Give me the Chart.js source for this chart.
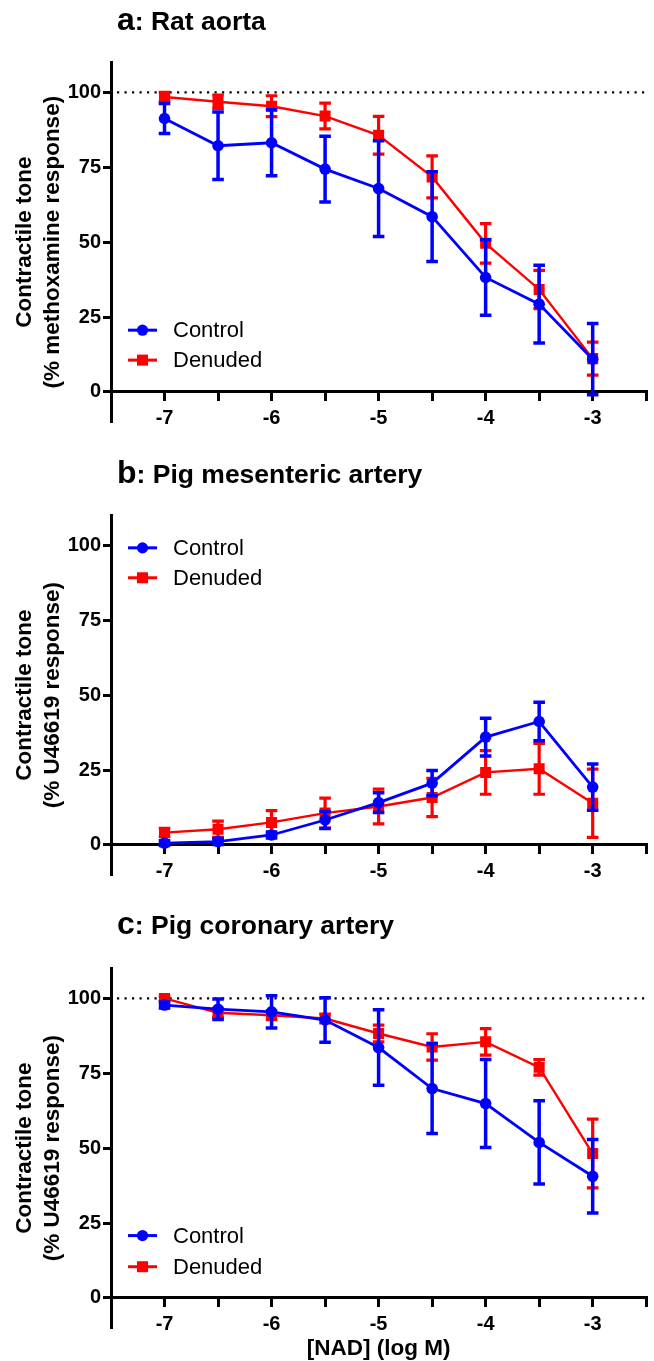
<!DOCTYPE html>
<html>
<head>
<meta charset="utf-8">
<title>NAD concentration-response</title>
<script src="https://cdn.jsdelivr.net/npm/chart.js@4.4.0/dist/chart.umd.min.js"></script>
<style>
  html, body { margin: 0; padding: 0; background: #fff; }
  #wrap { position: relative; width: 654px; height: 1361px; }
  canvas { position: absolute; left: 0; }
</style>
</head>
<body>
<div id="wrap">
  <canvas id="chartA" width="654" height="453" style="top:0"></canvas>
  <canvas id="chartB" width="654" height="453" style="top:453px"></canvas>
  <canvas id="chartC" width="654" height="455" style="top:906px"></canvas>
</div>
<script>
// ---- data ----
const logNAD = [-7, -6.5, -6, -5.5, -5, -4.5, -4, -3.5, -3];
const xTickValues = [-7.5, -7, -6.5, -6, -5.5, -5, -4.5, -4, -3.5, -3, -2.5];
const xLabelled = [-7, -6, -5, -4, -3];
const yTickValues = [0, 25, 50, 75, 100];
const seriesNames = ["Control", "Denuded"];

// a: rat aorta
const ratControl     = [91.3, 82.2, 83.2, 74.4, 67.9, 58.5, 38.2, 29.3, 10.9];
const ratControlErr  = [5.0, 11.3, 11.0, 11.0, 16.0, 15.0, 12.6, 13.0, 11.9];
const ratDenuded     = [98.5, 96.9, 95.4, 92.1, 85.7, 71.8, 49.6, 34.2, 11.1];
const ratDenudedErr  = [1.5, 2.2, 3.5, 4.3, 6.3, 7.0, 6.6, 6.4, 5.5];

// b: pig mesenteric artery
const mesControl     = [0.6, 1.1, 3.3, 8.3, 14.1, 20.6, 36.0, 41.2, 19.3];
const mesControlErr  = [0.8, 1.0, 1.0, 2.8, 3.3, 4.2, 6.3, 6.4, 7.7];
const mesDenuded     = [4.1, 5.2, 7.5, 10.6, 12.8, 15.8, 24.2, 25.4, 13.9];
const mesDenudedErr  = [1.4, 2.7, 3.9, 5.0, 5.8, 6.4, 7.3, 8.5, 11.4];

// c: pig coronary artery
const corControl     = [97.8, 96.4, 95.5, 92.8, 83.6, 69.9, 64.9, 51.9, 40.6];
const corControlErr  = [1.0, 3.4, 5.4, 7.4, 12.6, 15.0, 14.7, 13.9, 12.3];
const corDenuded     = [100.0, 95.2, 94.4, 93.3, 88.3, 83.8, 85.5, 77.0, 48.2];
const corDenudedErr  = [0.8, 1.5, 1.5, 1.5, 2.8, 4.4, 4.4, 2.6, 11.5];

const FONT = "'Liberation Sans', Arial, Helvetica, sans-serif";
const BLUE = "#0000ff";
const RED = "#ff0000";

// error bars, dotted 100% line, panel title, legend, x title
const decor = {
  id: "decor",
  beforeDatasetsDraw(chart, args, opts) {
    if (opts.refLine == null) return;
    const { ctx, chartArea } = chart;
    const py = chart.scales.y.getPixelForValue(opts.refLine);
    ctx.save();
    ctx.strokeStyle = "#000";
    ctx.lineWidth = 2.2;
    ctx.setLineDash([2.2, 5.3]);
    ctx.beginPath();
    ctx.moveTo(chartArea.left + 6, py);
    ctx.lineTo(chartArea.right, py);
    ctx.stroke();
    ctx.restore();
  },
  beforeDatasetDraw(chart, args) {
    const ds = chart.data.datasets[args.index];
    if (!ds.errorBars) return;
    const { ctx } = chart;
    const y = chart.scales.y;
    ctx.save();
    ctx.strokeStyle = ds.borderColor;
    ctx.lineWidth = ds.errorWidth;
    args.meta.data.forEach((pt, i) => {
      const v = ds.data[i].y, e = ds.errorBars[i];
      const top = y.getPixelForValue(v + e), bot = y.getPixelForValue(v - e);
      ctx.beginPath();
      ctx.moveTo(pt.x, top); ctx.lineTo(pt.x, bot);
      ctx.moveTo(pt.x - 5.8, top); ctx.lineTo(pt.x + 5.8, top);
      ctx.moveTo(pt.x - 5.8, bot); ctx.lineTo(pt.x + 5.8, bot);
      ctx.stroke();
    });
    ctx.restore();
  },
  afterDraw(chart, args, opts) {
    const { ctx, chartArea } = chart;
    const y = chart.scales.y;
    ctx.save();
    ctx.fillStyle = "#000";
    ctx.textBaseline = "alphabetic";
    // title: big bold letter + rest
    ctx.font = "bold 32px " + FONT;
    ctx.fillText(opts.letter, 117, opts.titleY);
    const lw = ctx.measureText(opts.letter).width;
    ctx.font = "bold 26.5px " + FONT;
    ctx.fillText(opts.title, 117 + lw, opts.titleY);

    // legend
    const sets = chart.data.datasets;
    opts.legendAt.forEach((val, i) => {
      const ds = sets[i];
      const py = y.getPixelForValue(val);
      const x0 = chartArea.left + 17, x1 = chartArea.left + 46, xm = (x0 + x1) / 2;
      ctx.strokeStyle = ds.borderColor;
      ctx.fillStyle = ds.borderColor;
      ctx.lineWidth = 3;
      ctx.beginPath(); ctx.moveTo(x0, py); ctx.lineTo(x1, py); ctx.stroke();
      if (ds.pointStyle === "rect") {
        ctx.fillRect(xm - 5.5, py - 5.5, 11, 11);
      } else {
        ctx.beginPath(); ctx.arc(xm, py, 5.6, 0, Math.PI * 2); ctx.fill();
      }
      ctx.fillStyle = "#000";
      ctx.font = "22px " + FONT;
      ctx.textBaseline = "middle";
      ctx.fillText(ds.label, chartArea.left + 62, py + 1);
    });

    if (opts.xTitle) {
      ctx.font = "bold 22.5px " + FONT;
      ctx.textAlign = "center";
      ctx.textBaseline = "middle";
      ctx.fillText(opts.xTitle, (chartArea.left + chartArea.right) / 2, opts.xTitleY);
    }
    ctx.restore();
  }
};

function makePanel(canvasId, p) {
  const pts = (vals) => logNAD.map((x, i) => ({ x, y: vals[i] }));
  const bottomPad = document.getElementById(canvasId).height - 62.5 - 359.3;
  return new Chart(document.getElementById(canvasId), {
    type: "line",
    data: {
      datasets: [
        { label: seriesNames[0], data: pts(p.control), errorBars: p.controlErr, errorWidth: 3.5,
          borderColor: BLUE, backgroundColor: BLUE, borderWidth: 2.8,
          pointStyle: "circle", pointRadius: 5.8, pointBorderWidth: 0, tension: 0 },
        { label: seriesNames[1], data: pts(p.denuded), errorBars: p.denudedErr, errorWidth: 3.2,
          borderColor: RED, backgroundColor: RED, borderWidth: 2.4,
          pointStyle: "rect", pointRadius: 7.8, pointBorderWidth: 0, tension: 0 }
      ]
    },
    options: {
      responsive: false,
      animation: false,
      events: [],
      layout: { padding: { top: 62.5, bottom: bottomPad, left: 0, right: 2 } },
      plugins: {
        legend: { display: false },
        tooltip: { enabled: false },
        decor: { letter: p.letter, title: p.title, titleY: p.titleY, refLine: p.refLine,
                 legendAt: p.legendAt, xTitle: p.xTitle, xTitleY: p.xTitleY }
      },
      scales: {
        x: {
          type: "linear", min: -7.5, max: -2.5,
          position: { y: 0 },
          afterBuildTicks: (ax) => { ax.ticks = xTickValues.map(v => ({ value: v })); },
          border: { color: "#000", width: 3 },
          grid: { drawOnChartArea: false, drawTicks: true, tickLength: 8, color: "#000", lineWidth: 3 },
          ticks: {
            autoSkip: false, maxRotation: 0, padding: 7, color: "#000",
            font: { family: FONT, size: 20, weight: "bold" },
            callback: (v) => xLabelled.includes(v) ? String(v) : ""
          }
        },
        y: {
          min: -10, max: 110,
          afterBuildTicks: (ax) => { ax.ticks = yTickValues.map(v => ({ value: v })); },
          afterFit: (ax) => { ax.width = 111; },
          border: { color: "#000", width: 3 },
          grid: { drawOnChartArea: false, drawTicks: true, tickLength: 8, color: "#000", lineWidth: 3 },
          ticks: { padding: 2, color: "#000", font: { family: FONT, size: 20, weight: "bold" } },
          title: {
            display: true, text: p.yTitle, color: "#000",
            font: { family: FONT, size: 22.5, weight: "bold", lineHeight: 1.25 },
            padding: { top: 11, bottom: 0 }
          }
        }
      }
    },
    plugins: [decor]
  });
}

makePanel("chartA", {
  letter: "a", title: ": Rat aorta", titleY: 30,
  control: ratControl, controlErr: ratControlErr,
  denuded: ratDenuded, denudedErr: ratDenudedErr,
  refLine: 100, legendAt: [20.6, 10.6],
  yTitle: ["Contractile tone", "(% methoxamine response)"]
});

makePanel("chartB", {
  letter: "b", title: ": Pig mesenteric artery", titleY: 30,
  control: mesControl, controlErr: mesControlErr,
  denuded: mesDenuded, denudedErr: mesDenudedErr,
  refLine: null, legendAt: [99.2, 89.2],
  yTitle: ["Contractile tone", "(% U46619 response)"]
});

makePanel("chartC", {
  letter: "c", title: ": Pig coronary artery", titleY: 28,
  control: corControl, controlErr: corControlErr,
  denuded: corDenuded, denudedErr: corDenudedErr,
  refLine: 100, legendAt: [20.8, 10.4],
  yTitle: ["Contractile tone", "(% U46619 response)"],
  xTitle: "[NAD] (log M)", xTitleY: 443
});
</script>
</body>
</html>
